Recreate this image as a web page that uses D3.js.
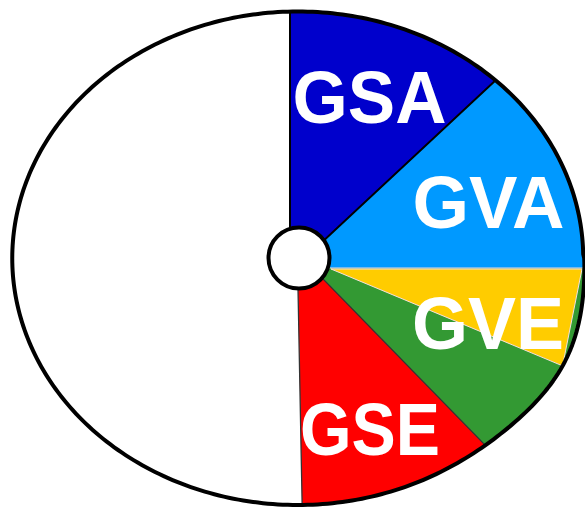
<!DOCTYPE html>
<html>
<head>
<meta charset="utf-8">
<script src="https://cdn.jsdelivr.net/npm/d3@7"></script>
<style>
  html, body { margin: 0; padding: 0; background: #fff; }
  svg { display: block; }
</style>
</head>
<body>
<svg id="chart" width="585" height="508"></svg>
<script>
// Slice shares in degrees of the full turn, clockwise from the top
const sliceNames   = ["GSA", "GVA", "GVE", "GSE", "rest"];
const sliceDegrees = [47.0, 43.0, 45.7, 43.2, 181.1];
const sliceColors  = ["#0000CC", "#0099FF", "#339933", "#FF0000", "#FFFFFF"];

// Yellow wedge laid over the start of the GVE slice
const overlayName    = "GVE";
const overlayDegrees = 22.7;
const overlayColor   = "#FFCC00";

const svg = d3.select("#chart");
const cx = 297.75, cy = 258.25, rx = 285.5, ry = 246.75;
const rad = d => d * Math.PI / 180;

// Rim: an ellipse with a gentle hand-drawn fullness on the lower right
const rimPts = d3.range(0, 360, 1).map(deg => {
  const t = rad(deg);
  const bulge = 7 * Math.exp(-Math.pow((deg - 24) / 17, 2));
  return [cx + (rx + bulge) * Math.cos(t), cy + (ry + bulge) * Math.sin(t)];
});
const rimPath = d3.line().curve(d3.curveLinearClosed)(rimPts);

const pie = d3.pie()
  .sort(null)
  .value(d => d.deg)
  .startAngle(0)
  .endAngle(2 * Math.PI);

const arcs = pie(sliceNames.map((n, i) => ({ name: n, deg: sliceDegrees[i] })));
const byName = Object.fromEntries(arcs.map(a => [a.data.name, a]));

// Wedges run past the rim and are cut back to it
const arc = d3.arc().innerRadius(0).outerRadius(420);

svg.append("clipPath").attr("id", "rim")
  .append("path").attr("d", rimPath);

const body = svg.append("g").attr("clip-path", "url(#rim)");

body.append("path")
  .attr("d", rimPath)
  .attr("fill", sliceColors[4]);

// Each hand-cut wedge has its own tip, tucked under the hub
const tips = {
  GVA: { x: 294.3, y: 268,   stroke: "none",    w: 0 },
  GSA: { x: 290,   y: 272,   stroke: "#000",    w: 2 },
  GVE: { x: 312,   y: 268,   stroke: "#f2d6d6", w: 1 },
  GSE: { x: 297.3, y: 252.6, stroke: "#333",    w: 1.3 }
};

["GVA", "GSA", "GVE", "GSE"].forEach(name => {
  const a = byName[name];
  const t = tips[name];
  body.append("path")
    .attr("transform", `translate(${t.x},${t.y})`)
    .attr("d", arc(a))
    .attr("fill", sliceColors[sliceNames.indexOf(name)])
    .attr("stroke", t.stroke)
    .attr("stroke-width", t.w)
    .attr("stroke-linejoin", "round");
});

// Overlay wedge: straight chord between its two end points
const base = byName[overlayName];
const a0 = base.startAngle, a1 = base.startAngle + rad(overlayDegrees);
const chordR = 251;
body.append("path")
  .attr("transform", "translate(331,269)")
  .attr("d", d3.line()([[0, 0], d3.pointRadial(a0, chordR), d3.pointRadial(a1, chordR)]) + "Z")
  .attr("fill", overlayColor)
  .attr("stroke", "#f6dede")
  .attr("stroke-width", 1);

// Outline of the rim
svg.append("path")
  .attr("d", rimPath)
  .attr("fill", "none")
  .attr("stroke", "#000")
  .attr("stroke-width", 4)
  .attr("stroke-linejoin", "round");

// Hub
svg.append("circle")
  .attr("cx", 299).attr("cy", 258)
  .attr("r", 30.5)
  .attr("fill", "#fff")
  .attr("stroke", "#000")
  .attr("stroke-width", 4);

// Slice labels
const labelSpots = [
  { t: "GSA", x: 292.5, y: 123, w: 154 },
  { t: "GVA", x: 412.5, y: 228, w: 152 },
  { t: "GVE", x: 412,   y: 349, w: 152 },
  { t: "GSE", x: 300,   y: 455, w: 140 }
];
svg.selectAll("text.lbl")
  .data(labelSpots)
  .join("text")
  .attr("class", "lbl")
  .attr("x", d => d.x)
  .attr("y", d => d.y)
  .attr("textLength", d => d.w)
  .attr("lengthAdjust", "spacingAndGlyphs")
  .attr("fill", "#fff")
  .attr("font-family", "'Liberation Sans', Arial, sans-serif")
  .attr("font-weight", "bold")
  .attr("font-size", 75)
  .text(d => d.t);
</script>
</body>
</html>
